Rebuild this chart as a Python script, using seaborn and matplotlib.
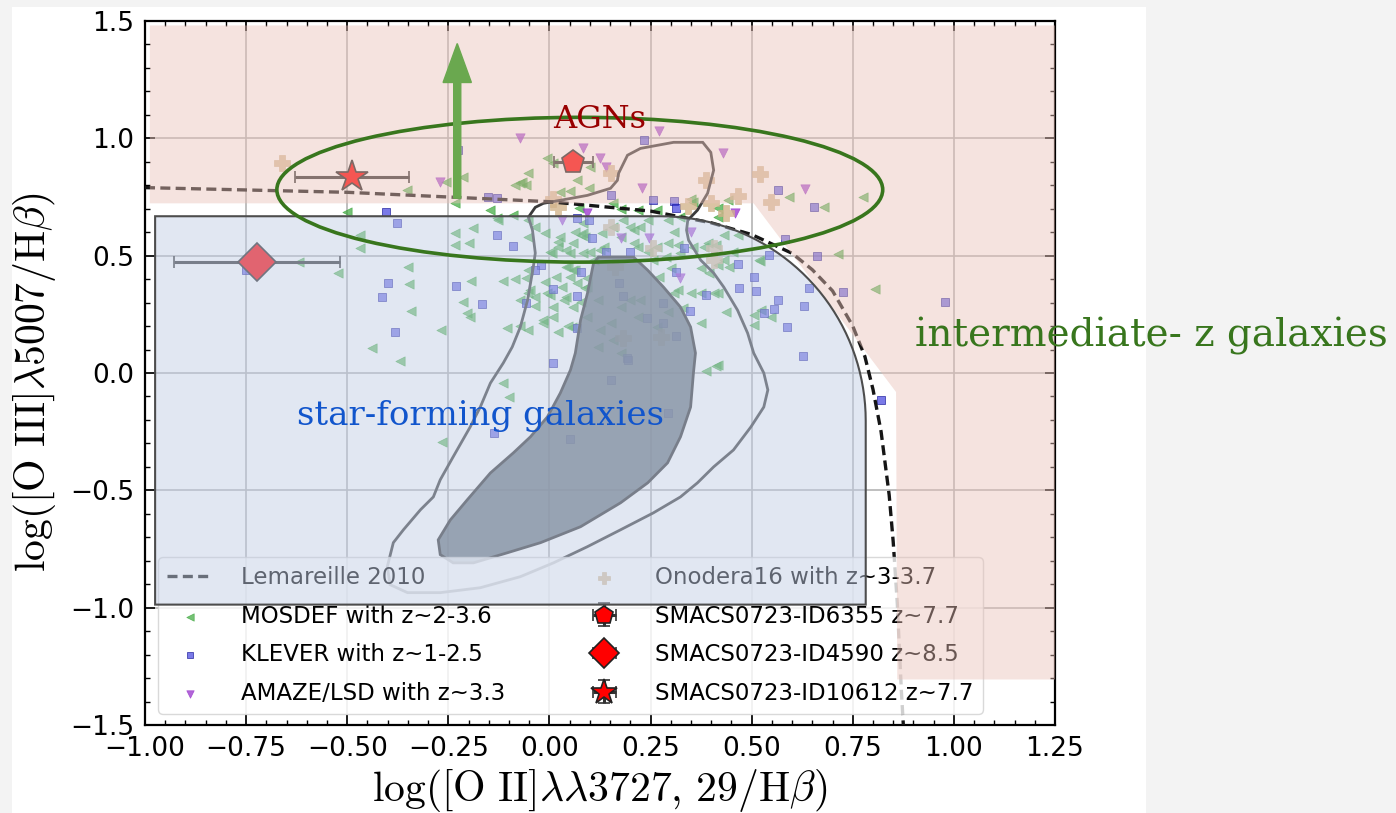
import numpy as np
import matplotlib
matplotlib.use('Agg')
import matplotlib.pyplot as plt
from matplotlib.patches import Polygon, Ellipse, FancyArrow, Rectangle, PathPatch
from matplotlib.path import Path
from matplotlib.ticker import MultipleLocator
import seaborn as sns

# --- data ---------------------------------------------------------------
MOSDEF_X = [-0.351, -0.233, -0.213, -0.072, -0.052, -0.005, 0.069, -0.500, -0.468, -0.233,
            -0.188, -0.200, -0.233, -0.129, -0.349, -0.347, -0.342, -0.267, -0.438, -0.369,
            -0.522, -0.619, -0.193, -0.213, -0.203, -0.196, -0.116, -0.084, -0.054, -0.104,
            -0.072, -0.054, -0.047, -0.035, -0.116, -0.101, -0.010, 0.015, 0.035, 0.059,
            0.010, -0.017, 0.022, 0.045, 0.020, 0.040, 0.059, 0.084, -0.010, 0.007,
            0.084, 0.109, 0.059, 0.094, 0.052, 0.094, 0.002, -0.035, -0.054, -0.265,
            -0.257, 0.010, -0.067, -0.059, -0.084, 0.101, 0.097, 0.027, 0.050, 0.072,
            -0.052, -0.089, -0.035, -0.126, -0.072, -0.052, -0.059, -0.005, 0.010, -0.017,
            0.040, 0.002, 0.020, 0.027, 0.064, 0.077, 0.084, 0.089, 0.052, 0.101,
            0.126, 0.134, 0.045, 0.064, 0.032, 0.069, 0.089, 0.040, 0.077, 0.119,
            0.094, 0.057, 0.126, 0.151, 0.119, 0.158, 0.176, 0.131, 0.158, 0.176,
            0.208, 0.218, 0.243, 0.267, 0.287, 0.257, 0.300, 0.270, 0.307, 0.292,
            0.329, 0.267, 0.200, 0.176, 0.218, 0.349, 0.374, 0.394, 0.416, 0.443,
            0.374, 0.406, 0.436, 0.517, 0.356, 0.441, 0.416, 0.307, 0.319, 0.324,
            0.354, 0.381, 0.411, 0.431, 0.455, 0.465, 0.158, 0.176, 0.218, 0.267,
            0.243, 0.292, 0.324, 0.183, 0.200, 0.713, 0.804, 0.520, 0.505, 0.547,
            0.522, 0.505, 0.416, 0.386, 0.416, 0.431, 0.374, 0.317, 0.225, 0.292,
            0.208, 0.225, 0.391, 0.592, 0.678, 0.775, 0.349, 0.416, -0.468, 0.411,
            -0.146]
MOSDEF_Y = [0.779, 0.723, 0.834, 0.809, 0.851, 0.915, 0.821, 0.685, 0.532, 0.596,
            0.617, 0.553, 0.545, 0.660, 0.451, 0.379, 0.264, 0.183, 0.106, 0.051,
            0.426, 0.472, 0.391, 0.302, 0.255, 0.238, 0.391, 0.400, 0.438, 0.191,
            0.200, 0.183, 0.353, 0.323, -0.043, -0.102, 0.387, 0.409, 0.311, 0.281,
            0.238, 0.213, 0.174, 0.200, 0.557, 0.523, 0.553, 0.596, 0.596, 0.511,
            0.511, 0.481, 0.438, 0.404, 0.409, 0.366, 0.332, 0.285, 0.579, -0.294,
            0.813, 0.894, 0.813, 0.800, 0.800, 0.877, 0.787, 0.770, 0.774, 0.702,
            0.651, 0.672, 0.621, 0.651, 0.311, 0.340, 0.404, 0.340, 0.281, 0.226,
            0.451, 0.515, 0.536, 0.579, 0.600, 0.587, 0.638, 0.579, 0.511, 0.515,
            0.523, 0.536, 0.451, 0.438, 0.366, 0.383, 0.362, 0.323, 0.302, 0.311,
            0.238, 0.196, 0.183, 0.213, 0.111, 0.140, 0.085, 0.596, 0.621, 0.579,
            0.609, 0.536, 0.515, 0.536, 0.494, 0.481, 0.447, 0.409, 0.340, 0.260,
            0.277, 0.196, 0.311, 0.281, 0.238, 0.340, 0.447, 0.426, 0.460, 0.451,
            0.340, 0.340, 0.260, 0.481, 0.728, 0.736, 0.664, 0.600, 0.545, 0.511,
            0.536, 0.536, 0.545, 0.587, 0.515, 0.587, 0.723, 0.698, 0.694, 0.694,
            0.651, 0.651, 0.664, 0.651, 0.621, 0.506, 0.357, 0.477, 0.247, 0.238,
            0.268, 0.204, 0.034, 0.009, 0.340, 0.481, 0.213, 0.353, 0.311, 0.553,
            0.553, 0.621, 0.553, 0.749, 0.706, 0.749, 0.740, 0.702, 0.587, 0.030,
            0.694]

KLEVER_X = [-0.225, -0.153, -0.129, -0.403, -0.376, -0.129, -0.089, 0.153, 0.233, 0.257,
            0.307, 0.314, 0.564, 0.069, 0.097, 0.106, 0.139, 0.332, 0.542, 0.465,
            -0.022, -0.035, 0.077, 0.173, 0.312, 0.468, 0.510, 0.386, 0.505, 0.564,
            0.530, 0.554, 0.010, 0.067, 0.183, 0.280, 0.347, -0.059, 0.240, 0.280,
            0.067, 0.312, 0.191, -0.381, -0.399, -0.230, -0.166, -0.413, 0.010, 0.151,
            -0.136, 0.050, 0.193, 0.198, -0.750, 0.653, 0.582, 0.661, 0.725, 0.978,
            0.819, 0.641, 0.629, 0.587, 0.626, 0.292]
KLEVER_Y = [0.949, 0.749, 0.745, 0.685, 0.638, 0.587, 0.540, 0.757, 0.991, 0.736,
            0.732, 0.702, 0.779, 0.660, 0.651, 0.574, 0.515, 0.532, 0.502, 0.464,
            0.460, 0.438, 0.430, 0.383, 0.430, 0.362, 0.349, 0.332, 0.409, 0.311,
            0.255, 0.272, 0.357, 0.328, 0.328, 0.298, 0.264, 0.298, 0.234, 0.213,
            0.191, 0.157, 0.064, 0.174, 0.383, 0.370, 0.294, 0.323, 0.043, -0.030,
            -0.255, -0.281, 0.055, 0.515, 0.438, 0.706, 0.570, 0.498, 0.345, 0.302,
            -0.115, 0.362, 0.285, 0.196, 0.072, -0.170]

AMAZE_X = [-0.072, -0.270, 0.082, 0.126, 0.139, 0.270, 0.428, 0.230, 0.460, 0.032,
           0.094, 0.176, 0.245, 0.349, 0.324, 0.631]
AMAZE_Y = [1.000, 0.813, 0.957, 0.915, 0.877, 1.030, 0.936, 0.787, 0.681, 0.651,
           0.681, 0.574, 0.574, 0.600, 0.404, 0.783]

ONODERA_X = [-0.661, 0.153, 0.386, 0.520, 0.547, 0.465, 0.399, 0.436, 0.342, 0.010,
             0.020, 0.151, 0.257, 0.406, 0.163, 0.183, 0.275, 0.406]
ONODERA_Y = [0.894, 0.851, 0.821, 0.847, 0.728, 0.753, 0.723, 0.681, 0.711, 0.740,
             0.706, 0.621, 0.532, 0.481, 0.451, 0.149, 0.153, 0.532]

# SMACS0723 objects: x, y, x error
ID6355 = (0.059, 0.898, 0.048)
ID4590 = (-0.723, 0.472, 0.205)
ID10612 = (-0.488, 0.834, 0.140)

# Lemareille et al. (2010) demarcation
LEM_X = [-1.0, -0.75, -0.5, -0.25, 0.0, 0.25, 0.4, 0.5, 0.6, 0.65, 0.7, 0.75,
         0.78, 0.8, 0.82, 0.84, 0.85, 0.86, 0.87, 0.875]
LEM_Y = [0.79, 0.78, 0.77, 0.75, 0.73, 0.69, 0.64, 0.59, 0.51, 0.44, 0.35, 0.20,
         0.07, -0.07, -0.25, -0.52, -0.72, -0.98, -1.35, -1.50]

# SDSS density contours (outer line, inner filled)
OUTER_X = [-0.401, -0.386, -0.361, -0.319, -0.287, -0.270, -0.238, -0.196, -0.171, -0.146,
           -0.114, -0.092, -0.072, -0.054, -0.040, -0.035, -0.042, -0.052, -0.035, -0.015,
           0.027, 0.094, 0.151, 0.168, 0.171, 0.193, 0.225, 0.307, 0.379, 0.399,
           0.406, 0.391, 0.366, 0.342, 0.339, 0.344, 0.374, 0.406, 0.431, 0.465,
           0.490, 0.505, 0.530, 0.540, 0.530, 0.498, 0.455, 0.406, 0.366, 0.324,
           0.257, 0.176, 0.094, 0.010, -0.072, -0.171, -0.270, -0.351, -0.394]
OUTER_Y = [-0.826, -0.723, -0.668, -0.583, -0.528, -0.455, -0.357, -0.230, -0.145, -0.043,
           0.043, 0.111, 0.196, 0.311, 0.451, 0.511, 0.609, 0.664, 0.706, 0.723,
           0.736, 0.757, 0.787, 0.821, 0.851, 0.928, 0.957, 0.983, 0.983, 0.940,
           0.864, 0.766, 0.694, 0.651, 0.609, 0.566, 0.481, 0.426, 0.366, 0.268,
           0.170, 0.085, 0.000, -0.072, -0.145, -0.230, -0.328, -0.400, -0.468, -0.528,
           -0.596, -0.668, -0.740, -0.809, -0.868, -0.915, -0.936, -0.936, -0.902]
INNER_X = [0.109, 0.121, 0.208, 0.243, 0.282, 0.324, 0.349, 0.361, 0.356, 0.349,
           0.324, 0.292, 0.243, 0.176, 0.077, -0.022, -0.104, -0.188, -0.238, -0.270,
           -0.275, -0.245, -0.203, -0.146, -0.089, -0.047, -0.005, 0.027, 0.052, 0.064,
           0.077, 0.094]
INNER_Y = [0.468, 0.494, 0.494, 0.438, 0.366, 0.281, 0.196, 0.085, 0.000, -0.145,
           -0.272, -0.383, -0.468, -0.553, -0.655, -0.723, -0.766, -0.809, -0.809, -0.774,
           -0.711, -0.626, -0.540, -0.426, -0.340, -0.272, -0.187, -0.085, 0.013, 0.085,
           0.226, 0.340]

# annotation regions drawn on top of the figure
PINK_X = [-0.988, 1.25, 1.25, 0.860, 0.857, 0.505, -0.988]
PINK_Y = [1.481, 1.481, -1.306, -1.306, -0.081, 0.723, 0.723]

# --- style ------------------------------------------------------------------
sns.set_theme(style='ticks')
plt.rcParams['font.family'] = ['DejaVu Sans']
plt.rcParams['mathtext.fontset'] = 'cm'
plt.rcParams['axes.labelcolor'] = 'black'
plt.rcParams['text.color'] = 'black'

W, H = 1396, 813
fig = plt.figure(figsize=(W / 100, H / 100), dpi=100, facecolor='#f3f3f3')
fig.add_artist(Rectangle((12 / W, 0), 1134 / W, 806 / H, transform=fig.transFigure,
                         facecolor='white', edgecolor='none', zorder=-1))
ax = fig.add_axes([145 / W, 88 / H, 910 / W, 704 / H])
ax.set_facecolor('white')

# --- data points ----------------------------------------------------------
sns.scatterplot(x=MOSDEF_X, y=MOSDEF_Y, marker='<', s=45, color='#2ca02c', alpha=0.65,
                edgecolor='#2ca02c', linewidth=0.5, label='MOSDEF with z~2-3.6', ax=ax, zorder=2)
sns.scatterplot(x=KLEVER_X, y=KLEVER_Y, marker='s', s=38, color='#3333dd', alpha=0.65,
                edgecolor='#1a1a99', linewidth=0.7, label='KLEVER with z~1-2.5', ax=ax, zorder=2)
sns.scatterplot(x=AMAZE_X, y=AMAZE_Y, marker='v', s=45, color='#9932cc', alpha=0.75,
                edgecolor='#9932cc', linewidth=0.5, label='AMAZE/LSD with z~3.3', ax=ax, zorder=2)
sns.scatterplot(x=ONODERA_X, y=ONODERA_Y, marker='P', s=120, color='#d2b48c', alpha=0.8,
                edgecolor='#d2b48c', linewidth=0.5, label='Onodera16 with z~3-3.7', ax=ax, zorder=2)

# SDSS contours
ax.add_patch(Polygon(np.column_stack([INNER_X, INNER_Y]), closed=True, facecolor='#56646e',
                     alpha=0.85, edgecolor='none', zorder=3))
ax.add_patch(Polygon(np.column_stack([INNER_X, INNER_Y]), closed=True, fill=False,
                     edgecolor='#333333', lw=2, zorder=3))
ax.add_patch(Polygon(np.column_stack([OUTER_X, OUTER_Y]), closed=True, fill=False,
                     edgecolor='#3a3a3a', lw=2, zorder=3))

ax.plot(LEM_X, LEM_Y, ls='--', dashes=(3, 1.6), color='#151515', lw=2.4, zorder=3,
        label='Lemareille 2010')

err_kw = dict(mfc='red', mec='#222222', mew=1.2, ecolor='#333333', elinewidth=2.2,
              capsize=4, capthick=2, zorder=4)
ax.errorbar(ID6355[0], ID6355[1], xerr=ID6355[2], yerr=0.02, fmt='p', ms=17,
            label='SMACS0723-ID6355 z~7.7', **err_kw)
ax.errorbar(ID4590[0], ID4590[1], xerr=ID4590[2], fmt='D', ms=19,
            label='SMACS0723-ID4590 z~8.5', **err_kw)
ax.errorbar(ID10612[0], ID10612[1], xerr=ID10612[2], yerr=0.02, fmt='*', ms=24,
            label='SMACS0723-ID10612 z~7.7', **err_kw)

# --- axes -------------------------------------------------------------------
ax.set_xlim(-1.0, 1.25)
ax.set_ylim(-1.5, 1.5)
ax.xaxis.set_major_locator(MultipleLocator(0.25))
ax.xaxis.set_minor_locator(MultipleLocator(0.05))
ax.yaxis.set_major_locator(MultipleLocator(0.5))
ax.yaxis.set_minor_locator(MultipleLocator(0.1))
ax.tick_params(which='both', direction='in', top=True, right=True, bottom=True, left=True,
               colors='black')
ax.tick_params(which='major', length=7, width=1.2, labelsize=19, pad=8)
ax.tick_params(which='minor', length=3.5, width=1)
ax.grid(True, which='major', color='#b4b4b4', lw=1.2)
ax.set_axisbelow(True)
for sp in ax.spines.values():
    sp.set_color('black')
    sp.set_linewidth(1.6)

ax.set_xlabel(r'$\log([\mathrm{O\ II}]\lambda\lambda3727,\,29/\mathrm{H}\beta)$', fontsize=30)
ax.set_ylabel(r'$\log([\mathrm{O\ III}]\lambda5007/\mathrm{H}\beta)$', fontsize=30)
ax.xaxis.set_label_coords(0.5, -0.059)
ax.yaxis.set_label_coords(-0.0956, 0.487)

# --- legend -------------------------------------------------------------------
handles, labels = ax.get_legend_handles_labels()
lookup = dict(zip(labels, handles))
order = ['Lemareille 2010', 'MOSDEF with z~2-3.6', 'KLEVER with z~1-2.5',
         'AMAZE/LSD with z~3.3', 'Onodera16 with z~3-3.7', 'SMACS0723-ID6355 z~7.7',
         'SMACS0723-ID4590 z~8.5', 'SMACS0723-ID10612 z~7.7']
ax.legend([lookup[k] for k in order], order, loc='lower left', bbox_to_anchor=(0.0143, 0.0156),
          borderaxespad=0, ncol=2, fontsize=16.5, markerscale=0.8, handletextpad=1.2,
          columnspacing=3.35, labelspacing=0.68, frameon=True, framealpha=0.8,
          edgecolor='#d0d0d0', fancybox=True, labelcolor='black')

# --- overlays (drawn over the plot) -------------------------------------------
ax.add_patch(Polygon(np.column_stack([PINK_X, PINK_Y]), closed=True,
                     facecolor=(233 / 255, 193 / 255, 184 / 255, 0.45), edgecolor='none', zorder=6))

x0, x1, y0, y1 = -0.975, 0.782, -0.987, 0.668
rx, ry = 0.507, 0.872
cx, cy = x1 - rx, y1 - ry
t = np.linspace(0, np.pi / 2, 40)
verts = [(x0, y0), (x1, y0), (x1, cy)] + list(zip(cx + rx * np.cos(t), cy + ry * np.sin(t))) + \
        [(x0, y1), (x0, y0)]
codes = [Path.MOVETO] + [Path.LINETO] * (len(verts) - 2) + [Path.CLOSEPOLY]
ax.add_patch(PathPatch(Path(verts, codes), facecolor=(194 / 255, 206 / 255, 229 / 255, 0.49),
                       edgecolor='#4d4d4d', lw=1.5, zorder=6))

ax.add_patch(Ellipse((0.075, 0.781), 1.498, 0.617, fill=False, edgecolor='#38761d', lw=2.6,
                     zorder=7))
ax.add_patch(FancyArrow(-0.228, 0.745, 0, 0.659, width=0.0175, head_width=0.07,
                        head_length=0.166, length_includes_head=True, color='#6aa84f',
                        zorder=7))

fig.text(553 / W, 1 - 128 / H, 'AGNs', color='#990000', fontsize=23, family='DejaVu Serif',
         ha='left', va='baseline')
fig.text(297 / W, 1 - 425 / H, 'star-forming galaxies', color='#1155cc', fontsize=24.5,
         family='DejaVu Serif', ha='left', va='baseline')
fig.text(915 / W, 1 - 346 / H, 'intermediate- z galaxies', color='#38761d', fontsize=28,
         family='DejaVu Serif', ha='left', va='baseline')

fig.savefig('out.png', dpi=100, facecolor=fig.get_facecolor())
